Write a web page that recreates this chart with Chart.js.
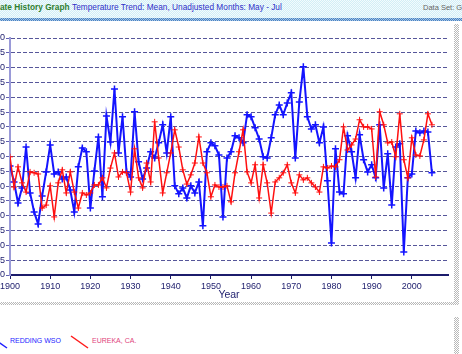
<!DOCTYPE html>
<html>
<head>
<meta charset="utf-8">
<script src="https://cdn.jsdelivr.net/npm/chart.js@4.4.1/dist/chart.umd.min.js"></script>
<style>
  body { margin: 0; width: 462px; height: 354px; overflow: hidden; background: #fff; position: relative; font-family: Arial, "Liberation Sans", sans-serif; }
  .abs { position: absolute; white-space: nowrap; }
  #header { left: 0; top: 0; width: 462px; height: 18px; background: repeating-conic-gradient(#d2eef6 0 25%, #f3fbfd 0 50%) 0 0 / 2px 2px; }
  #header-line { left: 0; top: 18px; width: 462px; height: 3px; background: repeating-conic-gradient(#4a82c4 0 25%, #a8c8e6 0 50%) 0 0 / 2px 2px; }
  #title-green { left: -18px; top: 0; line-height: 14px; font-size: 8.3px; font-weight: bold; color: #2f7f2f; }
  #title-blue { left: 72px; top: 0; line-height: 14px; font-size: 8.3px; color: #3030c8; }
  #dataset { left: 423px; top: 1px; line-height: 14px; font-size: 7.5px; color: #666; }
  #wrap { left: 0; top: 20px; width: 456px; height: 285px; overflow: hidden; }
  #chart { position: absolute; left: -40px; top: 0; }
  .band { background: repeating-conic-gradient(#b8b8b8 0 25%, #fff 0 50%) 0 0 / 2px 2px; }
  #vband1 { left: 454px; top: 24px; width: 5px; height: 281px; }
  #hband { left: 0; top: 302px; width: 459px; height: 3px; }
  #vband2 { left: 454px; top: 317px; width: 5px; height: 37px; }
  .leg { top: 335px; line-height: 12px; font-size: 7px; }
</style>
</head>
<body>
<div id="header" class="abs"></div>
<div id="header-line" class="abs"></div>
<div id="title-green" class="abs">Climate History Graph</div>
<div id="title-blue" class="abs">Temperature Trend: Mean, Unadjusted Months: May - Jul</div>
<div id="dataset" class="abs">Data Set: GHCN</div>

<div id="wrap" class="abs"><canvas id="chart" width="496" height="285"></canvas></div>

<div id="vband1" class="abs band"></div>
<div id="hband" class="abs band"></div>
<div id="vband2" class="abs band"></div>

<svg class="abs" style="left:0;top:325px" width="100" height="29">
  <line x1="-10" y1="11" x2="7" y2="23" stroke="#1e1eff" stroke-width="1.5"/>
  <line x1="71" y1="11" x2="88" y2="23" stroke="#ff1a1a" stroke-width="1.5"/>
</svg>
<div class="abs leg" style="left:10px;color:#1e1eff">REDDING WSO</div>
<div class="abs leg" style="left:92px;color:#e0447c">EUREKA, CA.</div>

<script>
// years on the x axis
const years = [
  1900, 1901, 1902, 1903, 1904, 1905, 1906, 1907, 1908, 1909,
  1910, 1911, 1912, 1913, 1914, 1915, 1916, 1917, 1918, 1919,
  1920, 1921, 1922, 1923, 1924, 1925, 1926, 1927, 1928, 1929,
  1930, 1931, 1932, 1933, 1934, 1935, 1936, 1937, 1938, 1939,
  1940, 1941, 1942, 1943, 1944, 1945, 1946, 1947, 1948, 1949,
  1950, 1951, 1952, 1953, 1954, 1955, 1956, 1957, 1958, 1959,
  1960, 1961, 1962, 1963, 1964, 1965, 1966, 1967, 1968, 1969,
  1970, 1971, 1972, 1973, 1974, 1975, 1976, 1977, 1978, 1979,
  1980, 1981, 1982, 1983, 1984, 1985, 1986, 1987, 1988, 1989,
  1990, 1991, 1992, 1993, 1994, 1995, 1996, 1997, 1998, 1999,
  2000, 2001, 2002, 2003, 2004, 2005
];

// Redding WSO
const redding = [
  63.68, 63.14, 62.43, 62.94, 64.32, 62.77, 62.13, 61.72, 62.67, 63.48,
  64.39, 63.41, 63.48, 63.24, 63.31, 62.87, 62.13, 63.65, 64.29, 64.16,
  62.26, 63.51, 64.66, 62.64, 65.37, 64.49, 66.28, 64.12, 65.34, 63.48,
  63.31, 65.51, 63.82, 63.24, 63.61, 64.16, 63.95, 64.46, 65.07, 64.12,
  65.34, 63.01, 62.74, 62.94, 62.60, 63.01, 62.77, 63.14, 61.66, 64.16,
  64.46, 64.36, 64.05, 61.96, 63.95, 64.16, 64.70, 64.63, 64.46, 65.41,
  65.34, 64.97, 64.59, 63.99, 63.95, 64.63, 65.41, 65.74, 65.41, 65.81,
  66.15, 63.95, 65.84, 67.03, 65.34, 64.93, 65.07, 64.46, 65.00, 63.18,
  61.08, 64.26, 62.80, 62.74, 64.70, 64.16, 63.28, 64.73, 63.89, 63.48,
  63.72, 63.28, 65.07, 62.94, 64.09, 62.36, 64.32, 64.43, 60.78, 63.28,
  63.41, 64.86, 64.80, 64.86, 64.83, 63.45
];

// Eureka, CA
const eureka = [
  63.99, 62.97, 63.65, 63.11, 62.80, 63.48, 63.45, 63.41, 62.26, 62.36,
  63.01, 61.96, 63.11, 63.55, 62.77, 63.48, 62.80, 62.26, 62.77, 62.70,
  62.77, 63.04, 63.04, 63.28, 62.94, 63.61, 64.12, 63.31, 63.48, 63.45,
  62.80, 64.26, 63.28, 62.94, 63.78, 63.14, 65.17, 63.95, 62.77, 63.45,
  64.12, 64.90, 64.32, 63.55, 63.07, 63.38, 63.78, 64.66, 63.78, 63.45,
  62.64, 63.04, 62.97, 62.97, 63.01, 62.47, 63.45, 64.16, 64.90, 63.48,
  63.11, 63.72, 62.60, 63.72, 63.11, 62.09, 63.14, 63.28, 63.45, 63.72,
  63.11, 62.77, 63.38, 63.21, 63.28, 63.11, 62.97, 62.80, 63.65, 63.61,
  63.68, 63.65, 63.89, 65.00, 64.22, 64.39, 64.59, 65.24, 65.00, 65.00,
  64.93, 63.31, 65.51, 65.07, 64.46, 64.49, 63.99, 65.44, 63.89, 63.28,
  64.63, 64.05, 64.02, 64.56, 65.44, 65.07
];

const yMin = 60, yMax = 68, yStep = 0.5;
const xMin = 1900, xMax = 2009, xStep = 10;

const navy = "#1c1c6c";

function pairs(vals) {
  return years.map((y, i) => ({ x: y, y: vals[i] }));
}

new Chart(document.getElementById("chart"), {
  type: "line",
  data: {
    datasets: [
      {
        label: "EUREKA, CA.",
        data: pairs(eureka),
        borderColor: "#ff1010",
        borderWidth: 1.5,
        pointStyle: "cross",
        pointRadius: 3,
        pointBorderWidth: 1,
        pointBorderColor: "#ff1010",
        tension: 0,
        order: 0
      },
      {
        label: "REDDING WSO",
        data: pairs(redding),
        borderColor: "#1414ff",
        borderWidth: 2,
        pointStyle: "cross",
        pointRadius: 3.5,
        pointBorderWidth: 1.5,
        pointBorderColor: "#1414ff",
        tension: 0,
        order: 1
      }
    ]
  },
  options: {
    responsive: false,
    animation: false,
    layout: { padding: { top: 18, right: 8, bottom: 0, left: 0 } },
    plugins: { legend: { display: false }, tooltip: { enabled: false } },
    scales: {
      x: {
        type: "linear",
        min: xMin,
        max: xMax,
        ticks: {
          stepSize: xStep,
          includeBounds: false,
          autoSkip: false,
          maxRotation: 0,
          padding: 2,
          color: navy,
          font: { family: "Arial", size: 9 },
          callback: (v) => String(v)
        },
        grid: { drawOnChartArea: false, drawTicks: true, tickLength: 4, color: navy },
        border: { display: true, color: navy, width: 2 },
        title: {
          display: true,
          text: "Year",
          color: navy,
          font: { family: "Arial", size: 10.5 },
          padding: { top: 0, bottom: 4 }
        },
        afterFit: (s) => { s.height = 30; }
      },
      y: {
        min: yMin,
        max: yMax,
        ticks: {
          stepSize: yStep,
          padding: 1,
          color: navy,
          font: { family: "Arial", size: 9 }
        },
        grid: {
          color: "rgba(30,30,120,0.75)",
          lineWidth: 1,
          tickLength: 4,
          tickColor: "#6060b0"
        },
        border: { display: true, color: "#9a9ad8", width: 2, dash: [4, 2] },
        afterFit: (s) => { s.width = 50; }
      }
    }
  }
});
</script>
</body>
</html>
